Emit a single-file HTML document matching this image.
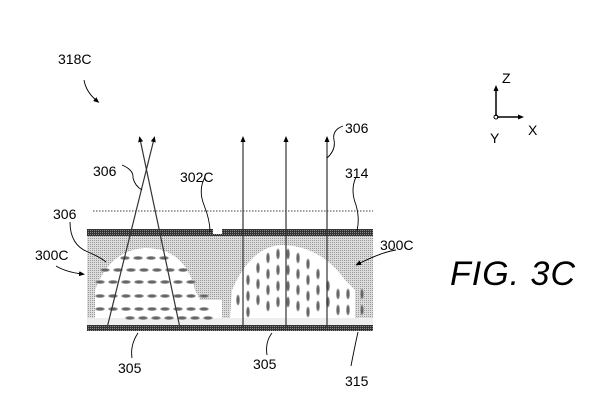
<!DOCTYPE html>
<html><head><meta charset="utf-8"><style>
html,body{margin:0;padding:0;background:#fff;}
svg{display:block;}
text{font-family:"Liberation Sans",sans-serif;font-size:14px;fill:#000;}
</style></head><body>
<svg id="s" width="613" height="400" viewBox="0 0 613 400" xmlns="http://www.w3.org/2000/svg">
<defs>
<pattern id="dots" width="2" height="2" patternUnits="userSpaceOnUse"><rect width="2" height="2" fill="#dcdcdc"/><rect width="1" height="1" fill="#999"/></pattern>
<pattern id="dark" width="2" height="2" patternUnits="userSpaceOnUse"><rect width="2" height="2" fill="#333"/><rect width="1" height="1" fill="#888"/></pattern>
<marker id="ah" markerWidth="6" markerHeight="6" refX="3" refY="3" orient="auto" markerUnits="userSpaceOnUse"><path d="M0,0.5 L6,3 L0,5.5 z" fill="#000"/></marker>
</defs>
<rect x="87" y="236" width="286" height="89" fill="url(#dots)"/>
<rect x="87" y="318" width="286" height="7" fill="#eee"/>
<path d="M95,318 L95,290 Q110,250 145,248 Q185,248 195,290 L200,300 L222,300 L222,318 z" fill="#fff"/>
<path d="M230,318 L232,290 Q250,248 280,245 Q320,245 345,280 L355,290 L355,318 z" fill="#fff"/>
<g id="ell"></g>
<rect x="87" y="229" width="286" height="7" fill="url(#dark)"/>
<rect x="213" y="229" width="9" height="5" fill="#fff"/>
<rect x="87" y="325" width="286" height="6" fill="url(#dark)"/>
<line x1="93" y1="211" x2="373" y2="211" stroke="#000" stroke-width="0.8" stroke-dasharray="1.5,1.5"/>
<g stroke="#333" stroke-width="1.2" fill="none">
<line x1="107" y1="328" x2="154" y2="139" marker-end="url(#ah)"/>
<line x1="180" y1="328" x2="140" y2="139" marker-end="url(#ah)"/>
<line x1="243" y1="328" x2="243" y2="139" marker-end="url(#ah)"/>
<line x1="286" y1="328" x2="286" y2="139" marker-end="url(#ah)"/>
<line x1="327" y1="328" x2="327" y2="139" marker-end="url(#ah)"/>
</g>
<g stroke="#000" stroke-width="0.9" fill="none">
<path d="M343,126 Q332,130 334,140 Q336,150 327,158"/>
<path d="M122,165 Q134,170 133,178 Q135,186 142,190"/>
<path d="M205,177 Q198,190 204,205 Q210,220 210,232"/>
<path d="M356,177 Q350,190 356,205 Q360,218 357,231"/>
<path d="M70,222 Q70,245 88,252 Q100,257 106,262"/>
<path d="M358,332 Q354,350 351,366"/>
<path d="M132,358 Q130,345 138,333"/>
<path d="M267,355 Q265,342 272,333"/>
<path d="M84,80 Q86,92 97,101" marker-end="url(#ah)"/>
<path d="M56,266 Q66,272 82,274" marker-end="url(#ah)"/>
<path d="M396,250 Q382,252 358,264" marker-end="url(#ah)"/>
</g>
<g stroke="#000" stroke-width="1.5" fill="none">
<line x1="496" y1="116" x2="496" y2="88" marker-end="url(#ah)"/>
<line x1="497" y1="117" x2="521" y2="117" marker-end="url(#ah)"/>
<circle cx="496" cy="117" r="2" stroke-width="1"/>
</g>
<text x="502" y="83">Z</text>
<text x="528" y="135">X</text>
<text x="490" y="143">Y</text>
<text x="58" y="64">318C</text>
<text x="345" y="133">306</text>
<text x="93" y="176">306</text>
<text x="180" y="182">302C</text>
<text x="345" y="178">314</text>
<text x="53" y="219">306</text>
<text x="35" y="260">300C</text>
<text x="380" y="250">300C</text>
<text x="118" y="373">305</text>
<text x="253" y="369">305</text>
<text x="345" y="386">315</text>
<text x="450" y="285" style="font-size:34px;font-style:italic;font-family:'Liberation Sans',sans-serif;letter-spacing:1px">FIG. 3C</text>
</svg>
<script>
var g=document.getElementById('ell'),h='';
function e(x,y,rx,ry){h+='<ellipse cx="'+x+'" cy="'+y+'" rx="'+rx+'" ry="'+ry+'" fill="#666" stroke="#aaa" stroke-width="0.8"/>';}
var rows=[[258,125,170],[270,105,185],[282,100,192],[296,100,205],[309,100,215],[318,130,215]];
rows.forEach(function(r){for(var x=r[1];x<=r[2];x+=13){e(x,r[0],4.5,1.6);}});
var cols=[[238,300],[248,280],[258,268],[268,258],[278,254],[288,254],[298,258],[308,264],[318,274],[328,286],[338,294],[348,294],[362,294]];
cols.forEach(function(c){for(var y=c[1];y<=315;y+=16){e(c[0],y,1.6,5);}});
g.innerHTML=h;
</script>
</body></html>
